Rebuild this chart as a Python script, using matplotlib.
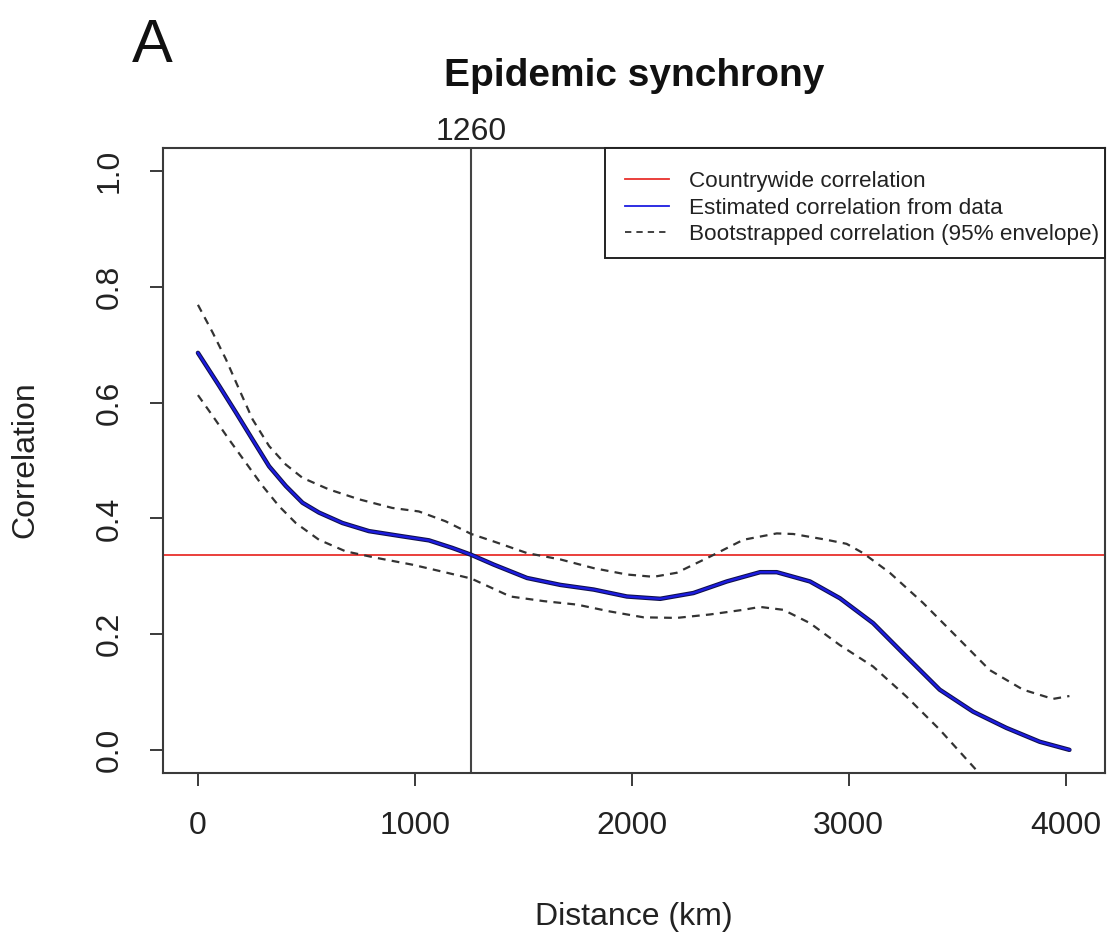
import matplotlib
matplotlib.use("Agg")
import matplotlib.pyplot as plt
import matplotlib.transforms as mtransforms
from matplotlib.lines import Line2D
from matplotlib.patches import Rectangle

plt.rcParams['font.family'] = ['Liberation Sans', 'DejaVu Sans']

# ---- data ----
est_x = [0, 98, 175, 252, 328, 405, 482, 558, 666, 788, 942, 1065, 1172, 1260, 1364,
         1517, 1671, 1824, 1977, 2131, 2284, 2438, 2591, 2668, 2821, 2959, 3112, 3266,
         3419, 3573, 3726, 3880, 4017]
est_y = [0.686, 0.629, 0.583, 0.536, 0.490, 0.456, 0.427, 0.410, 0.392, 0.378, 0.369,
         0.362, 0.349, 0.337, 0.320, 0.297, 0.285, 0.277, 0.265, 0.261, 0.271, 0.291,
         0.307, 0.307, 0.291, 0.262, 0.219, 0.161, 0.104, 0.066, 0.038, 0.014, 0.0]

up_x = [0, 68, 129, 190, 252, 328, 405, 482, 604, 742, 896, 1018, 1141, 1260, 1364,
        1517, 1671, 1824, 1977, 2100, 2207, 2361, 2514, 2668, 2744, 2898, 2990, 3066,
        3189, 3342, 3496, 3649, 3803, 3941, 4017]
up_y = [0.769, 0.721, 0.675, 0.623, 0.571, 0.525, 0.493, 0.470, 0.450, 0.433, 0.418,
        0.412, 0.395, 0.373, 0.360, 0.340, 0.329, 0.314, 0.303, 0.299, 0.306, 0.334,
        0.363, 0.374, 0.373, 0.363, 0.356, 0.340, 0.306, 0.254, 0.196, 0.138, 0.104,
        0.088, 0.093]

lo_x = [0, 68, 144, 221, 298, 374, 451, 558, 681, 819, 988, 1126, 1260, 1440, 1594,
        1747, 1901, 2054, 2207, 2361, 2514, 2591, 2698, 2821, 2959, 3112, 3266, 3419,
        3588, 3800, 4017]
lo_y = [0.613, 0.577, 0.536, 0.496, 0.456, 0.421, 0.392, 0.363, 0.343, 0.332, 0.320,
        0.308, 0.296, 0.265, 0.257, 0.251, 0.239, 0.229, 0.228, 0.234, 0.242, 0.247,
        0.242, 0.219, 0.181, 0.144, 0.092, 0.035, -0.035, -0.12, -0.20]

countrywide = 0.337
cutoff = 1260
xticks = [0, 1000, 2000, 3000, 4000]
yticks = [0.0, 0.2, 0.4, 0.6, 0.8, 1.0]
ytick_labels = ["0.0", "0.2", "0.4", "0.6", "0.8", "1.0"]
legend_labels = ["Countrywide correlation", "Estimated correlation from data",
                 "Bootstrapped correlation (95% envelope)"]

# ---- figure ----
W, H = 1109, 933
fig = plt.figure(figsize=(W / 100, H / 100), dpi=100)
ax = fig.add_axes([163 / W, 1 - 773 / H, (1105 - 163) / W, (773 - 148) / H])

frame_col = '#3a3a3a'
red_col = '#e8302c'
blue_col = '#1c1ce0'
dash_col = '#333333'
dash_pat = (3.5, 2.8)

ax.axhline(countrywide, color=red_col, lw=1.3, zorder=2)
ax.axvline(cutoff, color='#444444', lw=1.5, zorder=1)
ax.plot(up_x, up_y, color=dash_col, lw=1.6, dashes=dash_pat, zorder=3)
ax.plot(lo_x, lo_y, color=dash_col, lw=1.6, dashes=dash_pat, zorder=3)
ax.plot(est_x, est_y, color='#10104a', lw=3.2, solid_capstyle='round',
        solid_joinstyle='round', zorder=4)
ax.plot(est_x, est_y, color=blue_col, lw=1.7, solid_joinstyle='round', zorder=5)

ax.set_xlim(-161, 4181)
ax.set_ylim(-0.04, 1.04)
ax.set_xticks(xticks)
ax.set_xticklabels([str(v) for v in xticks])
ax.set_yticks(yticks)
ax.set_yticklabels(ytick_labels, rotation=90, va='center')
ax.tick_params(axis='both', length=9.5, width=1.4, color=frame_col, labelsize=23,
               pad=18, labelcolor='#222222', direction='out')
for s in ax.spines.values():
    s.set_color(frame_col)
    s.set_linewidth(1.5)

# legend (frame drawn separately)
fig.patches.append(Rectangle((605 / W, 1 - 258 / H), (1105 - 605) / W, (258 - 148) / H,
                             transform=fig.transFigure, facecolor='white',
                             edgecolor='#222222', lw=1.4, zorder=6))
handles = [Line2D([], [], color=red_col, lw=1.3),
           Line2D([], [], color=blue_col, lw=1.3),
           Line2D([], [], color=dash_col, lw=1.3, dashes=dash_pat)]
leg = fig.legend(handles, legend_labels, loc='upper left',
                 bbox_to_anchor=(625 / W, 1 - 171 / H), bbox_transform=fig.transFigure,
                 fontsize=16.2, frameon=False, borderaxespad=0.0, borderpad=0.0,
                 handlelength=1.95, handletextpad=0.88, labelspacing=0.25)
leg.set_zorder(7)
for t in leg.get_texts():
    t.set_color('#222222')

# texts
fig.text(152 / W, 1 - 62 / H, 'A', ha='center', va='baseline', fontsize=44, color='#111111')
fig.text(634 / W, 1 - 86 / H, 'Epidemic synchrony', ha='center', va='baseline',
         fontsize=28, fontweight='bold', color='#111111')
trans = mtransforms.blended_transform_factory(ax.transData, fig.transFigure)
ax.text(cutoff, 1 - 140 / H, str(cutoff), transform=trans, ha='center', va='baseline',
        fontsize=23, color='#222222')
fig.text(634 / W, 1 - 925 / H, 'Distance (km)', ha='center', va='baseline',
         fontsize=23, color='#222222')
fig.text(25 / W, 1 - 460 / H, 'Correlation', ha='center', va='center', rotation=90,
         fontsize=23, color='#222222')

fig.savefig('out.png', dpi=100, facecolor='white')
